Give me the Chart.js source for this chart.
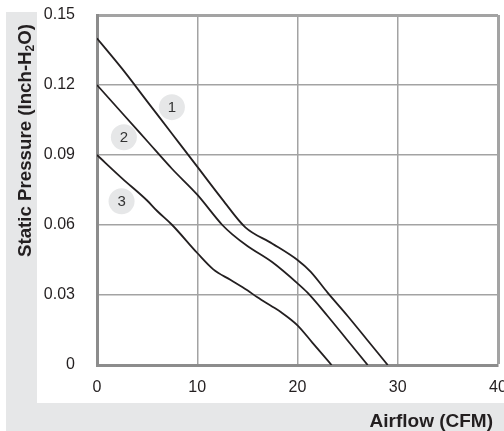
<!DOCTYPE html>
<html>
<head>
<meta charset="utf-8">
<script src="https://cdn.jsdelivr.net/npm/chart.js@4"></script>
<style>
html,body{margin:0;padding:0;background:#fff;}
#wrap{width:504px;height:431px;position:relative;}
</style>
</head>
<body>
<div id="wrap"><canvas id="c" width="504" height="431"></canvas></div>
<script>
// ---- data ----
const xTicks = [0, 10, 20, 30, 40];
const yTicks = [0, 0.03, 0.06, 0.09, 0.12, 0.15];
const yTickLabels = ['0', '0.03', '0.06', '0.09', '0.12', '0.15'];

const airflow1  = [0, 2.5, 5, 7.5, 10, 12.5, 14.8, 17.5, 20, 21.3, 23, 25, 27, 29];
const pressure1 = [0.140, 0.127, 0.113, 0.099, 0.085, 0.071, 0.059, 0.052, 0.045, 0.040, 0.031, 0.021, 0.0105, 0];

const airflow2  = [0, 2.5, 5, 7.5, 10, 12.5, 13.5, 15, 17.5, 20, 21, 23, 25, 27];
const pressure2 = [0.120, 0.108, 0.096, 0.084, 0.073, 0.060, 0.056, 0.051, 0.044, 0.035, 0.031, 0.021, 0.0105, 0];

const airflow3  = [0, 2.5, 5, 6, 7.5, 10, 11.6, 13.3, 15, 16, 17.5, 18.3, 20, 21.5, 23.4];
const pressure3 = [0.090, 0.080, 0.0705, 0.066, 0.060, 0.048, 0.041, 0.0365, 0.032, 0.029, 0.025, 0.0228, 0.017, 0.0095, 0];

const curveLabels = ['1', '2', '3'];
const labelX = [7.47, 2.68, 2.45];
const labelY = [0.1105, 0.0976, 0.0702];

const xTitle = 'Airflow (CFM)';
const yTitleParts = ['Static Pressure (Inch-H', '2', 'O)'];

// ---- build ----
const toPts = (xs, ys) => xs.map((x, i) => ({x: x, y: ys[i]}));
const lineStyle = {
  borderColor: '#231f20', borderWidth: 1.8, pointRadius: 0, fill: false,
  cubicInterpolationMode: 'monotone', showLine: true
};

const bgPlugin = {
  id: 'bg',
  beforeDraw(chart) {
    const c = chart.ctx;
    c.save();
    c.fillStyle = '#ffffff';
    c.fillRect(0, 0, chart.width, chart.height);
    c.fillStyle = '#e6e7e8';
    c.fillRect(6, 12, 31, chart.height - 12);
    c.fillRect(6, 403, chart.width - 6, chart.height - 403);
    c.restore();
  }
};

const textPlugin = {
  id: 'texts',
  afterDraw(chart) {
    const c = chart.ctx;
    const xs = chart.scales.x, ys = chart.scales.y;
    c.save();
    // circle numbers
    c.fillStyle = '#333333';
    c.font = '15px "Liberation Sans", Arial, sans-serif';
    c.textAlign = 'center';
    c.textBaseline = 'middle';
    curveLabels.forEach((t, i) => {
      c.fillText(t, xs.getPixelForValue(labelX[i]), ys.getPixelForValue(labelY[i]) + 1);
    });
    // x title
    c.fillStyle = '#231f20';
    c.font = 'bold 19px "Liberation Sans", Arial, sans-serif';
    c.textAlign = 'right';
    c.textBaseline = 'alphabetic';
    c.fillText(xTitle, 493, 427);
    // y title (rotated, with subscript)
    const big = 'bold 18.7px "Liberation Sans", Arial, sans-serif';
    const small = 'bold 12px "Liberation Sans", Arial, sans-serif';
    c.font = big;
    const w0 = c.measureText(yTitleParts[0]).width;
    const w2 = c.measureText(yTitleParts[2]).width;
    c.font = small;
    const w1 = c.measureText(yTitleParts[1]).width;
    const total = w0 + w1 + w2;
    c.translate(31, 140.5);
    c.rotate(-Math.PI / 2);
    c.textAlign = 'left';
    let x = -total / 2;
    c.font = big; c.fillText(yTitleParts[0], x, 0); x += w0;
    c.font = small; c.fillText(yTitleParts[1], x, 3); x += w1;
    c.font = big; c.fillText(yTitleParts[2], x, 0);
    c.restore();
  }
};

const frameColor = '#8c8c8c';
const gridColor = '#a3a3a3';

new Chart(document.getElementById('c'), {
  type: 'scatter',
  data: {
    datasets: [
      Object.assign({data: toPts(airflow1, pressure1)}, lineStyle),
      Object.assign({data: toPts(airflow2, pressure2)}, lineStyle),
      Object.assign({data: toPts(airflow3, pressure3)}, lineStyle),
      {data: toPts(labelX, labelY), showLine: false, pointRadius: 13, pointHoverRadius: 13,
       backgroundColor: '#e6e7e8', borderWidth: 0, pointBorderWidth: 0, borderColor: 'rgba(0,0,0,0)'}
    ]
  },
  options: {
    responsive: false,
    animation: false,
    devicePixelRatio: 1,
    layout: {autoPadding: false, padding: {left: 0, right: 6, top: 15, bottom: 0}},
    plugins: {legend: {display: false}, tooltip: {enabled: false}},
    scales: {
      x: {
        type: 'linear', min: 0, max: 40,
        afterBuildTicks(s) { s.ticks = xTicks.map(v => ({value: v})); },
        afterFit(s) { s.height = 66; s.paddingLeft = 0; s.paddingRight = 0; },
        ticks: {color: '#231f20', padding: 13, maxRotation: 0, autoSkip: false,
                font: {family: '"Liberation Sans", Arial, sans-serif', size: 16}},
        grid: {drawTicks: false, color: gridColor,
               lineWidth: ctx => (ctx.tick && ctx.tick.value === 40) ? 3 : 1.5},
        border: {display: true, color: frameColor, width: 3}
      },
      y: {
        type: 'linear', min: 0, max: 0.15,
        afterBuildTicks(s) { s.ticks = yTicks.map(v => ({value: v})); },
        afterFit(s) { s.width = 97; s.paddingTop = 0; s.paddingBottom = 0; },
        ticks: {color: '#231f20', padding: 22, autoSkip: false,
                callback: (v, i) => yTickLabels[i],
                font: {family: '"Liberation Sans", Arial, sans-serif', size: 16}},
        grid: {drawTicks: false, color: gridColor,
               lineWidth: ctx => (ctx.tick && Math.abs(ctx.tick.value - 0.15) < 1e-9) ? 3 : 1.5},
        border: {display: true, color: frameColor, width: 3}
      }
    }
  },
  plugins: [bgPlugin, textPlugin]
});
</script>
</body>
</html>
